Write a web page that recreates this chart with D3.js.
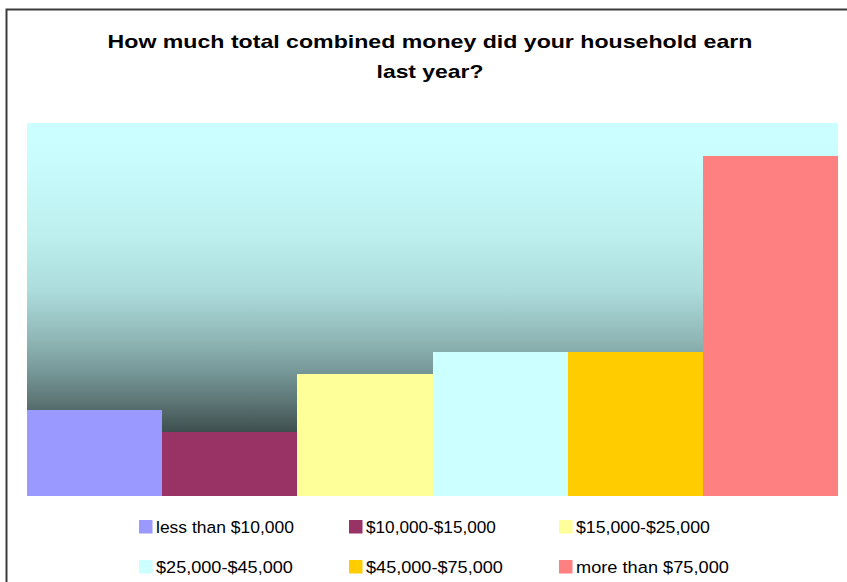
<!DOCTYPE html>
<html>
<head>
<meta charset="utf-8">
<script src="https://cdn.jsdelivr.net/npm/d3@7"></script>
<style>
  html, body { margin: 0; padding: 0; background: #ffffff; }
  svg { display: block; font-family: "Liberation Sans", Arial, sans-serif; }
</style>
</head>
<body>
<svg id="chart" width="847" height="582"></svg>
<script>
// Household income brackets and share of respondents (%)
const categories = [
  "less than $10,000",
  "$10,000-$15,000",
  "$15,000-$25,000",
  "$25,000-$45,000",
  "$45,000-$75,000",
  "more than $75,000"
];
const values = [9.2, 6.9, 13.1, 15.4, 15.4, 36.5];
const colors = ["#9999FF", "#993366", "#FFFF99", "#CCFFFF", "#FFCC00", "#FF8080"];
const titleLines = ["How much total combined money did your household earn", "last year?"];
const yMax = 40;

const svg = d3.select("#chart");

// Stretch a text element horizontally so it spans the given width
function fitWidth(sel, widthFn, x0, y0) {
  sel.each(function (d, i) {
    const node = this;
    const natural = node.getComputedTextLength();
    const k = widthFn(d, i) / natural;
    d3.select(node).attr("transform",
      `translate(${x0(d, i)},${y0(d, i)}) scale(${k},1)`);
  });
}

// Outer chart frame
svg.append("rect")
  .attr("x", 6.5).attr("y", 9.5)
  .attr("width", 860).attr("height", 600)
  .attr("fill", "#ffffff")
  .attr("stroke", "#3c3c3c")
  .attr("stroke-width", 2);

// Title
const titleWidths = [645, 107];
svg.append("g").selectAll("text")
  .data(titleLines)
  .join("text")
  .attr("text-anchor", "middle")
  .attr("font-size", 18.5)
  .attr("font-weight", "bold")
  .attr("fill", "#000")
  .text(d => d)
  .call(fitWidth, (d, i) => titleWidths[i], () => 430, (d, i) => 48 + i * 30);

// Plot area
const plot = { left: 27, right: 838, top: 123, bottom: 496 };

const x = d3.scaleBand()
  .domain(categories)
  .range([plot.left, plot.right])
  .padding(0);

const y = d3.scaleLinear()
  .domain([0, yMax])
  .range([plot.bottom, plot.top]);

// Background gradient: pale cyan fading to dark slate
const defs = svg.append("defs");
const grad = defs.append("linearGradient")
  .attr("id", "plotBg")
  .attr("x1", 0).attr("y1", 0).attr("x2", 0).attr("y2", 1);
const stops = [
  [0.00, "#CCFFFF"],
  [0.10, "#C9FCFC"],
  [0.30, "#BDEFEF"],
  [0.45, "#ACDCDC"],
  [0.58, "#90B6B6"],
  [0.66, "#789A9A"],
  [0.75, "#5C7474"],
  [0.83, "#3E4E4E"],
  [1.00, "#2C3838"]
];
grad.selectAll("stop")
  .data(stops)
  .join("stop")
  .attr("offset", d => d[0])
  .attr("stop-color", d => d[1]);

svg.append("rect")
  .attr("x", plot.left).attr("y", plot.top)
  .attr("width", plot.right - plot.left)
  .attr("height", plot.bottom - plot.top)
  .attr("fill", "url(#plotBg)");

// Bars
svg.append("g").selectAll("rect")
  .data(values)
  .join("rect")
  .attr("x", (d, i) => x(categories[i]))
  .attr("y", d => y(d))
  .attr("width", x.bandwidth())
  .attr("height", d => y(0) - y(d))
  .attr("fill", (d, i) => colors[i])
  .attr("shape-rendering", "crispEdges");

// Legend: three columns, two rows
const legendCols = [139, 349, 559];
const legendRows = [520, 560];
const legendWidths = [138, 130, 134, 137, 137, 153];
const legend = svg.append("g").selectAll("g")
  .data(categories)
  .join("g")
  .attr("transform", (d, i) => `translate(${legendCols[i % 3]},${legendRows[Math.floor(i / 3)]})`);

legend.append("rect")
  .attr("width", 13.5).attr("height", 13.5)
  .attr("fill", (d, i) => colors[i]);

legend.append("text")
  .attr("font-size", 16.5)
  .attr("fill", "#000")
  .text(d => d)
  .call(fitWidth, (d, i) => legendWidths[i], () => 17, () => 12.5);
</script>
</body>
</html>
